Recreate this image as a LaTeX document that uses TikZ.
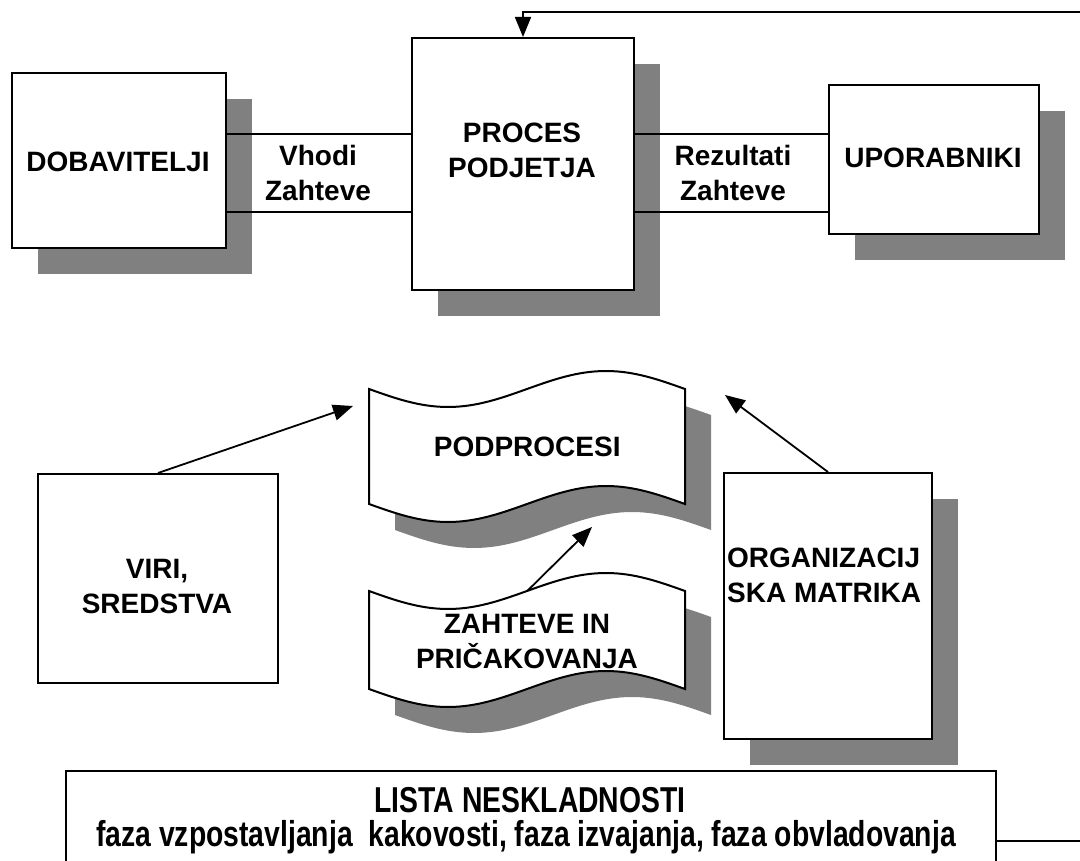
\documentclass[tikz,border=0pt]{standalone}
\usepackage{fontspec}
\setmainfont{Liberation Sans}
\newfontfamily\narrowf[FakeStretch=0.787]{Liberation Sans}
\usetikzlibrary{arrows.meta,shadows,calc}
\tikzset{
  ol/.style={line width=2pt, draw=black},
  boxnode/.style={ol, fill=white, rectangle, inner sep=0pt, anchor=north west},
  shadowed/.style={drop shadow={shadow xshift=26pt, shadow yshift=-26pt, opacity=1, fill=black!50}},
  shadefill/.style={fill=black!50},
  lbl/.style={align=center, inner sep=0pt, font=\fontsize{28}{35}\selectfont\bfseries},
  botlbl/.style={inner sep=0pt, font=\narrowf\fontsize{36}{37}\selectfont\bfseries},
  arr/.style={line width=1.8pt, -{Triangle[length=20pt,width=16pt]}},
}
\begin{document}
\begin{tikzpicture}[x=1pt,y=-1pt]
\useasboundingbox (0,0) rectangle (1080,861);
\clip (0,0) rectangle (1080,861);
% top row
\node[boxnode,shadowed,minimum width=214pt,minimum height=175pt] (dob) at (11,72) {};
\node[lbl] (dobt) at (118,162) {DOBAVITELJI};
\node[boxnode,shadowed,minimum width=222pt,minimum height=252pt] (proc) at (411,37) {};
\node[lbl] (proct) at (522,150) {PROCES\\PODJETJA};
\node[boxnode,shadowed,minimum width=210pt,minimum height=149pt] (upo) at (828,84) {};
\node[lbl] (upot) at (933,158) {UPORABNIKI};
\coordinate (bandtop) at (0,134);
\coordinate (bandbot) at (0,212);
\draw[ol] (dob.east |- bandtop) -- (proc.west |- bandtop);
\draw[ol] (dob.east |- bandbot) -- (proc.west |- bandbot);
\draw[ol] (proc.east |- bandtop) -- (upo.west |- bandtop);
\draw[ol] (proc.east |- bandbot) -- (upo.west |- bandbot);
\node[lbl] (vhodi) at (318,173) {Vhodi\\Zahteve};
\node[lbl] (rez) at (733,173) {Rezultati\\Zahteve};
% middle
\node[boxnode,minimum width=240pt,minimum height=209pt] (viri) at (37,473) {};
\node[lbl] (virit) at (157,587) {VIRI,\\SREDSTVA};
\node[boxnode,shadowed,minimum width=208pt,minimum height=266pt] (org) at (723,472) {};
\node[lbl,anchor=west,align=left] (orgt) at (727,575) {ORGANIZACIJ\\SKA MATRIKA};
% wavy shapes
\fill[shadefill,shift={(26,26)}] (369,389) sin ++(79,18) cos ++(79,-18) sin ++(79,-18) cos ++(79,18) -- (685,504) sin ++(-79,-18) cos ++(-79,18) sin ++(-79,18) cos ++(-79,-18) -- cycle;
\filldraw[ol,fill=white] (369,389) sin ++(79,18) cos ++(79,-18) sin ++(79,-18) cos ++(79,18) -- (685,504) sin ++(-79,-18) cos ++(-79,18) sin ++(-79,18) cos ++(-79,-18) -- cycle;
\node[lbl,minimum width=316pt,minimum height=115pt,anchor=north west] (pod) at (369,389) {PODPROCESI};
\fill[shadefill,shift={(26,26)}] (369,591) sin ++(79,18) cos ++(79,-18) sin ++(79,-18) cos ++(79,18) -- (685,689) sin ++(-79,-18) cos ++(-79,18) sin ++(-79,18) cos ++(-79,-18) -- cycle;
\filldraw[ol,fill=white] (369,591) sin ++(79,18) cos ++(79,-18) sin ++(79,-18) cos ++(79,18) -- (685,689) sin ++(-79,-18) cos ++(-79,18) sin ++(-79,18) cos ++(-79,-18) -- cycle;
\node[lbl,minimum width=316pt,minimum height=98pt,anchor=north west] (zah) at (369,591) {};
\node[lbl] (zaht) at (527,642) {ZAHTEVE IN\\PRIČAKOVANJA};
% arrows
\coordinate (tipV) at (353,406);
\coordinate (tipO) at (725,395);
\coordinate (tipZ) at (592,527);
\draw[arr] (viri.north) -- (tipV);
\draw[arr] (org.north) -- (tipO);
\draw[arr] (zah.north) -- (tipZ);
% bottom list
\node[boxnode,minimum width=930pt,minimum height=140pt] (lista) at (65,770) {};
\node[botlbl] (listat) at (530,800) {LISTA NESKLADNOSTI};
\node[botlbl] (faza) at (526,837) {faza vzpostavljanja~ kakovosti, faza izvajanja, faza obvladovanja};
% feedback
\coordinate (fbA) at (1100,841);
\coordinate (fbB) at (1100,12);
\draw[arr] (lista.east |- fbA) -- (fbA) -- (fbB) -| (proc.north);
\end{tikzpicture}
\end{document}
